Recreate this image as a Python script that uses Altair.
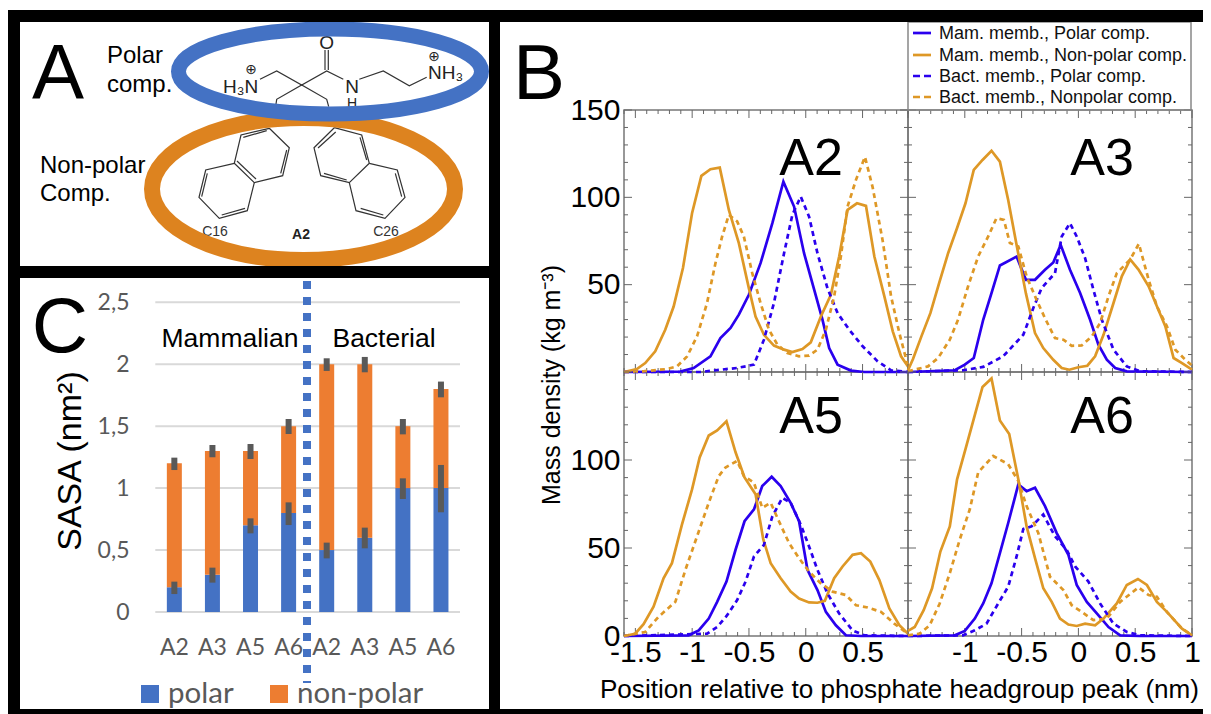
import altair as alt
import pandas as pd

W, H = 1195, 706
OX, OY = 8, 8
BLUE = "#2A00EE"
GOLD = "#DE9826"
OFFICE_BLUE = "#4472C4"
OFFICE_ORANGE = "#ED7D31"
RING_ORANGE = "#DD831F"
OFFICE_GREY = "#595959"
HELV = "Liberation Sans"

# ---------- Panel B data ----------
A2_MP_X = [-1.6,-1.104,-0.987,-0.839,-0.751,-0.662,-0.589,-0.501,-0.398,-0.294,-0.197,-0.103,-0.015,0.074,0.147,0.206,0.28,0.398,0.515,0.9]
A2_MP_Y = [0,0.2,2.3,9,19.4,25.2,32.8,44.2,62.3,85.2,109,94.7,68,47.2,30,13.7,4.2,0.8,0,0]
A2_MN_X = [-1.6,-1.487,-1.413,-1.325,-1.237,-1.163,-1.081,-1.001,-0.919,-0.839,-0.757,-0.677,-0.589,-0.501,-0.442,-0.368,-0.28,-0.191,-0.118,-0.029,0.044,0.133,0.221,0.294,0.368,0.451,0.53,0.604,0.692,0.766,0.839,0.9]
A2_MN_Y = [0,1.7,5.1,11.8,24.2,37.5,59.5,90.9,112.3,116.1,117,92.8,73.8,48,31.8,21.3,15.1,12.8,11.4,13.2,17,31.8,44.2,66.1,92.8,96.6,95.1,66.1,43.3,23.3,9,3.2]
A2_BP_X = [-1.6,-0.928,-0.751,-0.604,-0.456,-0.368,-0.28,-0.191,-0.118,-0.044,0.029,0.103,0.191,0.28,0.383,0.501,0.633,0.751,0.9]
A2_BP_Y = [0,0,1.3,2.3,4.2,18.5,39.5,68,90,100.4,89,68,48,33.7,24.2,14.7,6.1,0.95,0]
A2_BN_X = [-1.6,-1.428,-1.222,-1.134,-1.045,-0.957,-0.869,-0.795,-0.736,-0.677,-0.604,-0.545,-0.471,-0.398,-0.324,-0.25,-0.162,-0.059,0.029,0.103,0.177,0.25,0.309,0.368,0.442,0.521,0.589,0.677,0.751,0.824,0.9]
A2_BN_Y = [0,0.4,1.7,3.2,8.9,20.4,39.5,62.3,77.6,90,86.2,77.6,56.6,39.5,24.2,15.7,10.9,9,9.4,12.8,24.2,43.3,66.1,94.7,110,123.2,105.7,75.2,43.3,22.3,3.2]

A3_MP_X = [-1.5,-1.088,-1,-0.921,-0.838,-0.765,-0.691,-0.544,-0.462,-0.382,-0.294,-0.221,-0.156,-0.074,0.015,0.103,0.176,0.25,0.324,0.426,1]
A3_MP_Y = [0,1,4.2,8,29.9,45.2,61,66.1,52.8,52.8,58.5,62.7,72.8,58.5,45.2,29.9,15.6,7,2.3,0.4,0]
A3_MN_X = [-1.5,-1.456,-1.382,-1.303,-1.226,-1.147,-1.068,-0.994,-0.921,-0.844,-0.765,-0.691,-0.618,-0.544,-0.462,-0.382,-0.309,-0.221,-0.147,-0.079,0,0.079,0.147,0.221,0.309,0.382,0.456,0.529,0.618,0.691,0.765,0.838,0.912,1.0]
A3_MN_Y = [1,7.4,20.4,33.7,50.9,68,82.4,96.6,115.7,121.4,126.7,120.4,98.5,72.7,45,22.3,13.7,7,2.3,1.3,2.7,3.6,9,21.3,39.5,54.8,64.4,58.6,49.1,37.6,26.2,8,5.1,1.3]
A3_BP_X = [-1.5,-1.015,-0.838,-0.662,-0.485,-0.397,-0.324,-0.206,-0.147,-0.074,-0.015,0.059,0.132,0.206,0.309,0.426,0.544,1]
A3_BP_Y = [0,1,2.9,9,21.3,36.6,48,56.6,77.6,85.2,77.6,65.2,47.1,29.9,12.8,3.2,0.4,0]
A3_BN_X = [-1.5,-1.324,-1.235,-1.132,-1.059,-0.971,-0.882,-0.794,-0.721,-0.656,-0.603,-0.529,-0.456,-0.368,-0.294,-0.206,-0.132,-0.059,0.029,0.118,0.191,0.265,0.338,0.456,0.532,0.618,0.691,0.779,0.853,0.926,1.0]
A3_BN_Y = [0.4,3.2,8,18.5,30,49.1,66.2,77.6,88.1,87.1,73.8,71.9,54.7,41.3,30.8,19.4,18.5,15,15.2,20.4,28,43.3,56.6,64.4,73.4,52.9,37.6,26.2,12.8,8,3.6]

A5_MP_X = [-1.6,-1.031,-0.942,-0.854,-0.78,-0.698,-0.618,-0.539,-0.456,-0.383,-0.3,-0.221,-0.133,-0.059,0.015,0.103,0.177,0.265,0.353,0.486,0.9]
A5_MP_Y = [0,0.4,3.2,9.9,19.4,30.9,49,65.2,71.9,85.2,90.5,85.2,75.7,65.2,37.6,26.1,13.7,6.1,0.4,0,0]
A5_MN_X = [-1.6,-1.502,-1.428,-1.34,-1.252,-1.178,-1.09,-1.001,-0.934,-0.854,-0.78,-0.698,-0.618,-0.539,-0.442,-0.374,-0.309,-0.221,-0.133,-0.059,0.029,0.103,0.168,0.25,0.324,0.412,0.486,0.568,0.648,0.736,0.824,0.9]
A5_MN_Y = [0,1.3,6.7,16.6,32.8,41.4,63.3,83.3,101.5,113.9,116.8,122,104.4,90.1,80.6,54.9,41.4,32.8,25.2,21.3,19.1,18.9,20,32.8,39.5,46.1,47,42.3,31.8,15.6,6.1,1.3]
A5_BP_X = [-1.6,-0.869,-0.78,-0.692,-0.604,-0.53,-0.456,-0.368,-0.294,-0.206,-0.133,-0.044,0.029,0.103,0.191,0.294,0.412,0.515,0.9]
A5_BP_Y = [0,1.3,5.1,11.8,20.4,30.9,45.2,51.8,68,78.5,75.7,63.3,50.9,37.6,24.2,12.8,3.2,0.4,0]
A5_BN_X = [-1.6,-1.413,-1.296,-1.148,-1.06,-0.957,-0.854,-0.766,-0.707,-0.604,-0.545,-0.456,-0.383,-0.309,-0.236,-0.147,-0.059,0.029,0.133,0.236,0.353,0.442,0.545,0.663,0.78,0.9]
A5_BN_Y = [0,2.3,10.9,19.4,37.5,56.6,75.7,90.9,95.7,99.5,90.9,87.1,72.8,75.7,65.2,52.8,44.2,36.6,29.9,25.2,23.3,17.5,16.2,13.7,7,1.3]

A6_MP_X = [-1.5,-1.088,-1,-0.912,-0.838,-0.765,-0.691,-0.618,-0.529,-0.456,-0.382,-0.294,-0.191,-0.088,-0.015,0.074,0.162,0.265,0.368,0.544,1]
A6_MP_Y = [0,0.4,2.9,9.9,18.5,29.9,47.1,64.2,86.1,82.3,84.2,73.8,58.5,46.1,29,19.4,12.8,5.1,0.4,0,0]
A6_MN_X = [-1.5,-1.441,-1.362,-1.288,-1.215,-1.132,-1.068,-0.994,-0.921,-0.844,-0.765,-0.691,-0.609,-0.529,-0.456,-0.382,-0.309,-0.235,-0.162,-0.088,-0.015,0.059,0.147,0.221,0.338,0.426,0.524,0.603,0.691,0.779,0.912,1.0]
A6_MN_Y = [2.9,5.1,14.7,27.1,48,62.3,89,106.2,123.4,141.5,146.3,122.4,114.8,89,62.3,44.2,27.1,19.4,9.9,6.5,5.7,7,6.1,9.9,18.5,29,32.4,29,19.4,13.7,4.2,0.4]
A6_BP_X = [-1.5,-1.015,-0.912,-0.809,-0.706,-0.618,-0.544,-0.485,-0.412,-0.309,-0.206,-0.103,-0.029,0.088,0.191,0.309,0.426,0.544,1]
A6_BP_Y = [0,0.4,3.2,7,18.5,28,45.2,60.8,62.3,69,56.6,49,39.5,30.9,18.5,7,2.3,0.4,0]
A6_BN_X = [-1.5,-1.397,-1.309,-1.221,-1.132,-1.044,-0.956,-0.882,-0.75,-0.618,-0.529,-0.456,-0.353,-0.25,-0.132,-0.059,0.029,0.132,0.25,0.368,0.529,0.618,0.691,0.779,0.912,1]
A6_BN_Y = [0.4,1.3,6.1,18.5,35.7,54.9,72,93,102.3,97.6,88.1,73.8,58.5,33.7,26.1,17.5,13.7,9,9.9,19.4,27.6,23.3,22.3,13.7,4.2,0.4]

LEGEND_LABELS = ["Mam. memb., Polar comp.", "Mam. memb., Non-polar comp.",
                 "Bact. memb., Polar comp.", "Bact. memb., Nonpolar comp."]

# ---------- Panel C data ----------
C_IDS = ["m-A2","m-A3","m-A5","m-A6","b-A2","b-A3","b-A5","b-A6"]
C_POLAR = [0.2,0.3,0.7,0.8,0.5,0.6,1.0,1.0]
C_TOTAL = [1.2,1.3,1.3,1.5,2.0,2.0,1.5,1.8]
C_POLAR_LO = [0.145,0.237,0.635,0.702,0.433,0.514,0.912,0.805]
C_POLAR_HI = [0.245,0.358,0.756,0.885,0.56,0.681,1.079,1.187]
C_TOTAL_LO = [1.146,1.249,1.235,1.437,1.946,1.935,1.434,1.733]
C_TOTAL_HI = [1.246,1.348,1.356,1.558,2.048,2.059,1.558,1.86]
C_GRID = [0,0.5,1,1.5,2,2.5]

# ---------- Diagram A data (page pixels) ----------
BONDS = [
    [(260,79.3),(276.7,71),(301.7,85),(326.7,71),(343.3,79.3)],
    [(359.3,79.3),(383.3,71),(409.3,85.7),(426.7,77.3)],
    [(276,104),(276.7,99.3),(301.7,85),(326.7,99.3),(328.7,106.7)],
    [(325,70),(325,50)], [(328.3,70),(328.3,50)],
    [(269.3,128.3),(289.3,147.7),(282.7,175.7),(254.3,182.7),(234.3,163.3),(241,135),(269.3,128.3)],
    [(234.3,163.3),(205.7,170),(199,197.3),(219.3,218.3),(247.3,210.7),(254.3,182.7)],
    [(243.3,137.3),(266.7,130.7)], [(286.7,150),(280.7,173.3)], [(237,161),(256,179)],
    [(207.3,173.3),(201.7,196.7)], [(221.7,215),(245,208.3)],
    [(334.3,127.7),(314,147.7),(320.7,175.7),(349.3,182.7),(369.3,163.3),(361.7,135),(334.3,127.7)],
    [(369.3,163.3),(397.3,170),(405,197.3),(385,218.3),(356,210.7),(349.3,182.7)],
    [(335.7,132),(318,148)], [(360,137.3),(366.7,160)], [(324,173.3),(346.7,180)],
    [(395.3,173.3),(401.7,196.7)], [(360.7,208.3),(383.3,215)],
]

# text, x, baseline y, size, align, font, weight, colour, angle
TEXTS_UNDER = [
    ("O",326.7,49,19,"center",HELV,"normal","#222",0),
    ("H₃N",223,93,19,"left",HELV,"normal","#222",0),
    ("N",352,93,19,"center",HELV,"normal","#222",0),
    ("H",352,108,14,"center",HELV,"normal","#222",0),
    ("NH₃",428,79,19,"left",HELV,"normal","#222",0),
    ("⊕",251,74,14,"center","DejaVu Sans","normal","#222",0),
    ("⊕",434,60.5,14,"center","DejaVu Sans","normal","#222",0),
    ("C16",215,236,14,"center",HELV,"normal","#333",0),
    ("A2",301,239,14,"center",HELV,"bold","#222",0),
    ("C26",386,236,14,"center",HELV,"normal","#333",0),
]
TEXTS_OVER = [
    ("A",58,99,78,"center",HELV,"normal","black",0),
    ("B",539,99,78,"center",HELV,"normal","black",0),
    ("C",60,352,78,"center",HELV,"normal","black",0),
    ("Polar",107,63,24,"left",HELV,"normal","black",0),
    ("comp.",107,92,24,"left",HELV,"normal","black",0),
    ("Non-polar",40,173,24,"left",HELV,"normal","black",0),
    ("Comp.",40,201,24,"left",HELV,"normal","black",0),
    ("A2",811,175,52,"center",HELV,"normal","black",0),
    ("A3",1102,175,52,"center",HELV,"normal","black",0),
    ("A5",811,433,52,"center",HELV,"normal","black",0),
    ("A6",1102,433,52,"center",HELV,"normal","black",0),
    ("Mass density (kg m⁻³)",560,385,25,"center",HELV,"normal","black",270),
    ("Position relative to phosphate headgroup peak (nm)",899.5,698,26.1,"center",HELV,"normal","black",0),
    ("SASA (nm²)",81,461,34,"center",HELV,"normal","black",270),
    ("Mammalian",230,347,26.5,"center",HELV,"normal","black",0),
    ("Bacterial",384,347,26.5,"center",HELV,"normal","black",0),
    ("polar",168,703,29.5,"left","Lato","normal",OFFICE_GREY,0),
    ("non-polar",297,703,29.5,"left","Lato","normal",OFFICE_GREY,0),
]

# ---------- Shared page-pixel scale ----------
def cx(field="x"):
    return alt.X(f"{field}:Q", scale=alt.Scale(domain=[OX, OX+W], range=[0, W], nice=False, zero=False), axis=None)
def cy(field="y"):
    return alt.Y(f"{field}:Q", scale=alt.Scale(domain=[OY, OY+H], range=[0, H], nice=False, zero=False), axis=None)

def text_layer(rows):
    out = []
    for (t, x, y, size, align, font, weight, color, angle) in rows:
        df = pd.DataFrame({"x":[x], "y":[y], "t":[t]})
        out.append(alt.Chart(df).mark_text(fontSize=size, align=align, baseline="alphabetic",
                   font=font, fontWeight=weight, color=color, angle=angle)
                   .encode(x=cx(), y=cy(), text="t:N"))
    return out

def rect(x1, x2, y1, y2, **kw):
    df = pd.DataFrame({"x":[x1], "x2":[x2], "y":[y1], "y2":[y2]})
    return alt.Chart(df).mark_rect(**kw).encode(x=cx(), x2="x2:Q", y=cy(), y2="y2:Q")

def hline(x1, x2, y, **kw):
    df = pd.DataFrame({"x":[x1], "x2":[x2], "y":[y]})
    return alt.Chart(df).mark_rule(**kw).encode(x=cx(), x2="x2:Q", y=cy())

def ellipse(x, y, rx, ry, color, sw):
    ratio = ry / rx
    path = f"M-1,0 A1,{ratio:.4f} 0 1,1 1,0 A1,{ratio:.4f} 0 1,1 -1,0 Z"
    df = pd.DataFrame({"x":[x], "y":[y]})
    return alt.Chart(df).mark_point(shape=path, size=(2*rx)**2, filled=False, stroke=color,
                                    strokeWidth=sw, opacity=1).encode(x=cx(), y=cy())

# ---------- Panel B ----------
def panel(series, x0, x1, y0, y1, xdom, xlabels=None, ylabels=None):
    xs = alt.Scale(domain=xdom, range=[x0-OX, x1-OX], nice=False, zero=False)
    ys = alt.Scale(domain=[0,150], range=[y1-OY, y0-OY], nice=False, zero=False)
    # inward tick marks on all four sides, in data units
    px_x = (xdom[1]-xdom[0]) / (x1-x0)
    px_y = 150.0 / (y1-y0)
    n0 = int(round(xdom[0]*10)); n1 = int(round(xdom[1]*10))
    xrows, yrows = [], []
    for k in range(n0, n1+1):
        v = k/10
        ln = 8 if k % 5 == 0 else 4
        xrows.append({"x":v, "y":0, "y2":ln*px_y})
        xrows.append({"x":v, "y":150, "y2":150-ln*px_y})
    for v in range(0, 151, 10):
        ln = 8 if v % 50 == 0 else 4
        yrows.append({"x":xdom[0], "x2":xdom[0]+ln*px_x, "y":v})
        yrows.append({"x":xdom[1], "x2":xdom[1]-ln*px_x, "y":v})
    layers = [
        alt.Chart(pd.DataFrame(xrows)).mark_rule(color="#666", strokeWidth=1).encode(
            x=alt.X("x:Q", scale=xs, axis=None), y=alt.Y("y:Q", scale=ys, axis=None), y2="y2:Q"),
        alt.Chart(pd.DataFrame(yrows)).mark_rule(color="#666", strokeWidth=1).encode(
            x=alt.X("x:Q", scale=xs, axis=None), x2="x2:Q", y=alt.Y("y:Q", scale=ys, axis=None)),
    ]
    xaxis = None
    if xlabels:
        xaxis = alt.Axis(orient="bottom", values=xlabels, title=None, grid=False, domain=False, ticks=False,
                         tickSize=0, labelPadding=1, labelFont=HELV, labelFontSize=30, labelColor="black",
                         labelFlush=False, labelOverlap=False, labelExpr="''+datum.value",
                         offset=y1-OY-H)
    yaxis = None
    if ylabels:
        yaxis = alt.Axis(orient="left", values=ylabels, title=None, grid=False, domain=False, ticks=False,
                         tickSize=0, labelPadding=4, labelFont=HELV, labelFontSize=30, labelColor="black",
                         labelFlush=False, labelOverlap=False, offset=-(x0-OX))
    first = True
    for (sx, sy, color, dash) in series:
        df = pd.DataFrame({"x":sx, "y":sy})
        kw = {"strokeDash":dash} if dash else {}
        layers.append(alt.Chart(df).mark_line(color=color, strokeWidth=2.7, **kw).encode(
            x=alt.X("x:Q", scale=xs, axis=xaxis if first else None),
            y=alt.Y("y:Q", scale=ys, axis=yaxis if first else None)))
        first = False
    return layers

DASH = [5, 4]
def four(a, b, c, d, e, f, g, h):
    return [(a,b,BLUE,None),(c,d,GOLD,None),(e,f,BLUE,DASH),(g,h,GOLD,DASH)]

PX0, PX1, PX2 = 624, 908, 1192
PY0, PY1, PY2 = 110, 372, 636
p_a2 = panel(four(A2_MP_X,A2_MP_Y,A2_MN_X,A2_MN_Y,A2_BP_X,A2_BP_Y,A2_BN_X,A2_BN_Y), PX0,PX1,PY0,PY1,[-1.6,0.9], ylabels=[50,100,150])
p_a3 = panel(four(A3_MP_X,A3_MP_Y,A3_MN_X,A3_MN_Y,A3_BP_X,A3_BP_Y,A3_BN_X,A3_BN_Y), PX1,PX2,PY0,PY1,[-1.5,1.0])
p_a5 = panel(four(A5_MP_X,A5_MP_Y,A5_MN_X,A5_MN_Y,A5_BP_X,A5_BP_Y,A5_BN_X,A5_BN_Y), PX0,PX1,PY1,PY2,[-1.6,0.9], xlabels=[-1.5,-1,-0.5,0,0.5], ylabels=[0,50,100])
p_a6 = panel(four(A6_MP_X,A6_MP_Y,A6_MN_X,A6_MN_Y,A6_BP_X,A6_BP_Y,A6_BN_X,A6_BN_Y), PX1,PX2,PY1,PY2,[-1.5,1.0], xlabels=[-1,-0.5,0,0.5,1])

# ---------- Panel C ----------
cxs = alt.Scale(type="band", domain=C_IDS, range=[155.3-OX, 460-OX], paddingInner=0, paddingOuter=0)
cys = alt.Scale(domain=[0,2.5], range=[612-OY, 302.3-OY], nice=False, zero=False)
bars = pd.DataFrame({"id":C_IDS, "polar":C_POLAR, "total":C_TOTAL, "zero":[0]*8,
                     "pl":C_POLAR_LO, "ph":C_POLAR_HI, "tl":C_TOTAL_LO, "th":C_TOTAL_HI})
c_grid = alt.Chart(pd.DataFrame({"v":C_GRID})).mark_rule(color="#D9D9D9", strokeWidth=2).encode(
    x=alt.value(155.3-OX), x2=alt.value(460-OX),
    y=alt.Y("v:Q", scale=cys, axis=alt.Axis(orient="left", values=C_GRID, title=None, grid=False, domain=False,
            ticks=False, tickSize=0, labelPadding=0, labelFont="Lato", labelFontSize=23, labelColor=OFFICE_GREY,
            labelFlush=False, labelOverlap=False, labelExpr="replace(''+datum.value,'.',',')", offset=-(129-OX))))
c_p = alt.Chart(bars).mark_bar(size=15, color=OFFICE_BLUE).encode(
    x=alt.X("id:N", scale=cxs, sort=None, axis=alt.Axis(orient="bottom", title=None, grid=False, domain=False, ticks=False,
            tickSize=0, labelPadding=0, labelFont="Lato", labelFontSize=23, labelColor=OFFICE_GREY, labelAngle=0,
            labelOverlap=False, labelExpr="split(datum.value,'-')[1]", offset=636-OY-H)),
    y=alt.Y("zero:Q", scale=cys, axis=None), y2="polar:Q")
c_n = alt.Chart(bars).mark_bar(size=15, color=OFFICE_ORANGE).encode(
    x=alt.X("id:N", scale=cxs, sort=None, axis=None),
    y=alt.Y("polar:Q", scale=cys, axis=None), y2="total:Q")
c_e1 = alt.Chart(bars).mark_rule(color="#595959", strokeWidth=6).encode(
    x=alt.X("id:N", scale=cxs, sort=None, axis=None),
    y=alt.Y("pl:Q", scale=cys, axis=None), y2="ph:Q")
c_e2 = alt.Chart(bars).mark_rule(color="#595959", strokeWidth=6).encode(
    x=alt.X("id:N", scale=cxs, sort=None, axis=None),
    y=alt.Y("tl:Q", scale=cys, axis=None), y2="th:Q")
p_c = [c_grid, c_p, c_n, c_e1, c_e2]

# ---------- Diagram A ----------
bond_rows = []
for i, poly in enumerate(BONDS):
    for j, (x, y) in enumerate(poly):
        bond_rows.append({"id":i, "k":j, "x":x, "y":y})
molecule = alt.Chart(pd.DataFrame(bond_rows)).mark_line(color="#333", strokeWidth=1.2).encode(
    x=cx(), y=cy(), detail="id:N", order="k:Q")

divider = pd.DataFrame({"x":[307], "y":[281], "y2":[683]})
divider_c = alt.Chart(divider).mark_rule(color=OFFICE_BLUE, strokeWidth=8, strokeDash=[8,8]).encode(
    x=cx(), y=cy(), y2="y2:Q")

# ---------- Assembly ----------
legend_rows = [(33,BLUE,None),(55,GOLD,None),(76,BLUE,[7,4]),(97,GOLD,[7,4])]
legend_layers = [rect(908,1191,22,110, fillOpacity=0, stroke="#888", strokeWidth=1.5)]
for (y, col, dash), lab in zip(legend_rows, LEGEND_LABELS):
    kw = {"strokeDash":dash} if dash else {}
    legend_layers.append(hline(913,931,y, color=col, strokeWidth=2.7, **kw))
legend_layers += text_layer([(lab,939,y+6,18,"left",HELV,"normal","#111",0)
                             for (y,_,_), lab in zip(legend_rows, LEGEND_LABELS)])

borders = [
    rect(8,1203,10,22, color="black"),
    rect(8,20,10,714, color="black"),
    rect(489,500,10,714, color="black"),
    rect(8,500,266,278, color="black"),
    rect(8,1203,709,714, color="black"),
]
frames = [rect(PX0,PX1,PY0,PY1, fillOpacity=0, stroke="#777", strokeWidth=1.5),
          rect(PX1,PX2,PY0,PY1, fillOpacity=0, stroke="#777", strokeWidth=1.5),
          rect(PX0,PX1,PY1,PY2, fillOpacity=0, stroke="#777", strokeWidth=1.5),
          rect(PX1,PX2,PY1,PY2, fillOpacity=0, stroke="#777", strokeWidth=1.5)]
c_legend = [rect(141,159,685,703, color=OFFICE_BLUE), rect(270,288,685,703, color=OFFICE_ORANGE)]

all_layers = ([molecule] + text_layer(TEXTS_UNDER)
              + [ellipse(303.5,189,151.5,71,RING_ORANGE,16), ellipse(330,71.5,151.5,42.5,OFFICE_BLUE,15)]
              + p_c + [divider_c] + c_legend
              + frames + p_a2 + p_a3 + p_a5 + p_a6 + legend_layers
              + text_layer(TEXTS_OVER) + borders)

chart = (alt.layer(*all_layers)
         .resolve_scale(x="independent", y="independent")
         .properties(width=W, height=H, padding=0, autosize=alt.AutoSizeParams(type="none"))
         .configure_view(stroke=None))

chart.save("out.html", embed_options={"renderer": "svg", "actions": False})
